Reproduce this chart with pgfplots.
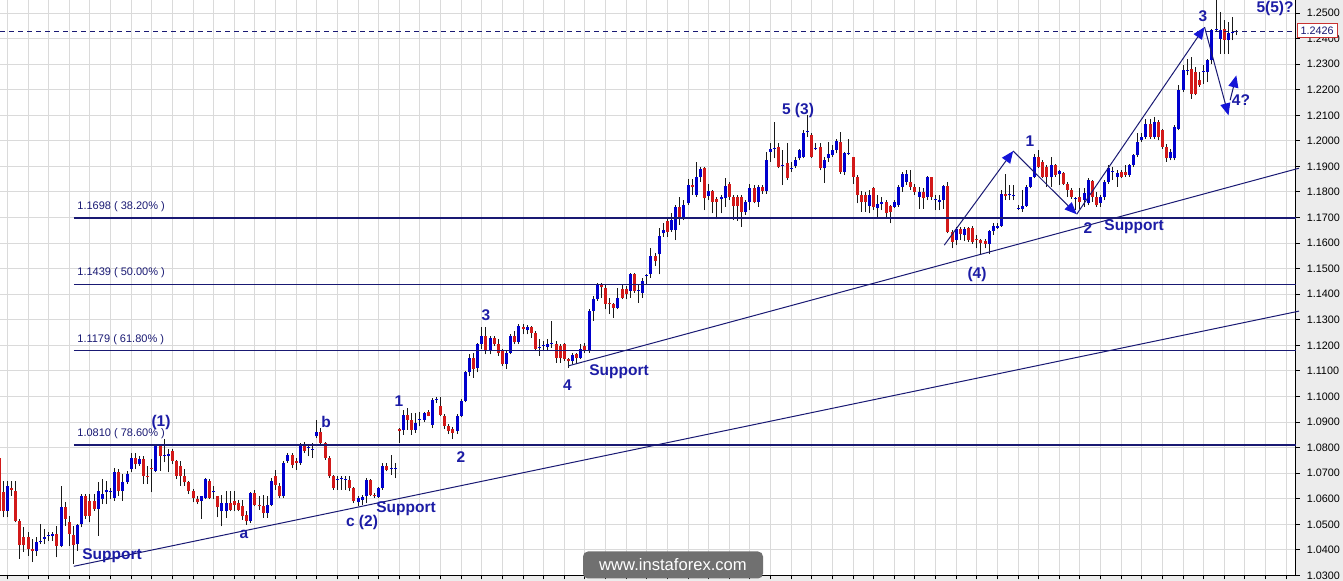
\documentclass[border=0pt]{standalone}
\usepackage{pgfplots}
\pgfplotsset{compat=1.18}
\usepackage{pgfplotstable}
\usepackage{fontspec}
\setmainfont{Liberation Sans}
\usetikzlibrary{arrows.meta}
\definecolor{upc}{RGB}{0,0,205}
\definecolor{dnc}{RGB}{210,25,25}
\definecolor{wickc}{RGB}{25,25,25}
\definecolor{gridc}{RGB}{218,218,218}
\definecolor{navyc}{RGB}{25,25,115}
\definecolor{lblc}{RGB}{28,28,165}
\definecolor{arrc}{RGB}{20,20,215}
\definecolor{panelc}{RGB}{236,236,236}
\definecolor{wmc}{RGB}{112,112,112}
\definecolor{boxred}{RGB}{200,50,50}

\pgfplotstableread{
i O H L C
-1 1.0761 1.0775 1.0540 1.0553
0 1.0625 1.0670 1.0527 1.0553
1 1.0553 1.0670 1.0527 1.0651
2 1.0642 1.0670 1.0612 1.0634
3 1.0631 1.0670 1.0508 1.0514
4 1.0514 1.0521 1.0365 1.0419
5 1.0449 1.0488 1.0391 1.0419
6 1.0449 1.0469 1.0378 1.0404
7 1.0404 1.0443 1.0352 1.0394
8 1.0394 1.0449 1.0378 1.0430
9 1.0430 1.0501 1.0423 1.0436
10 1.0443 1.0482 1.0423 1.0449
11 1.0456 1.0469 1.0436 1.0459
12 1.0456 1.0469 1.0436 1.0462
13 1.0462 1.0495 1.0371 1.0417
14 1.0417 1.0651 1.0410 1.0566
15 1.0566 1.0586 1.0495 1.0521
16 1.0508 1.0534 1.0417 1.0462
17 1.0458 1.0495 1.0345 1.0419
18 1.0423 1.0501 1.0397 1.0497
19 1.0501 1.0618 1.0488 1.0612
20 1.0610 1.0618 1.0521 1.0534
21 1.0592 1.0618 1.0508 1.0534
22 1.0592 1.0618 1.0553 1.0560
23 1.0560 1.0664 1.0456 1.0631
24 1.0599 1.0677 1.0579 1.0618
25 1.0625 1.0670 1.0579 1.0635
26 1.0625 1.0644 1.0599 1.0631
27 1.0605 1.0722 1.0592 1.0703
28 1.0703 1.0716 1.0612 1.0631
29 1.0631 1.0696 1.0592 1.0664
30 1.0664 1.0709 1.0657 1.0696
31 1.0716 1.0781 1.0703 1.0761
32 1.0761 1.0781 1.0716 1.0735
33 1.0735 1.0768 1.0729 1.0755
34 1.0755 1.0768 1.0657 1.0690
35 1.0691 1.0729 1.0657 1.0687
36 1.0722 1.0755 1.0625 1.0716
37 1.0709 1.0813 1.0703 1.0806
38 1.0806 1.0813 1.0709 1.0768
39 1.0768 1.0832 1.0742 1.0771
40 1.0768 1.0794 1.0703 1.0774
41 1.0787 1.0794 1.0735 1.0748
42 1.0748 1.0752 1.0677 1.0690
43 1.0729 1.0748 1.0651 1.0690
44 1.0690 1.0716 1.0651 1.0664
45 1.0664 1.0670 1.0618 1.0631
46 1.0631 1.0638 1.0586 1.0605
47 1.0599 1.0612 1.0579 1.0586
48 1.0592 1.0612 1.0521 1.0609
49 1.0605 1.0683 1.0599 1.0677
50 1.0670 1.0677 1.0599 1.0605
51 1.0625 1.0651 1.0599 1.0631
52 1.0612 1.0612 1.0527 1.0566
53 1.0551 1.0616 1.0492 1.0583
54 1.0551 1.0629 1.0525 1.0583
55 1.0583 1.0629 1.0551 1.0557
56 1.0590 1.0629 1.0551 1.0577
57 1.0583 1.0596 1.0551 1.0557
58 1.0570 1.0596 1.0518 1.0531
59 1.0538 1.0551 1.0499 1.0512
60 1.0512 1.0626 1.0505 1.0622
61 1.0622 1.0635 1.0570 1.0577
62 1.0577 1.0609 1.0557 1.0570
63 1.0573 1.0616 1.0525 1.0544
64 1.0544 1.0609 1.0525 1.0577
65 1.0577 1.0681 1.0570 1.0668
66 1.0690 1.0714 1.0635 1.0655
67 1.0651 1.0661 1.0603 1.0609
68 1.0609 1.0746 1.0603 1.0740
69 1.0746 1.0779 1.0740 1.0772
70 1.0772 1.0779 1.0720 1.0733
71 1.0746 1.0759 1.0714 1.0740
72 1.0740 1.0818 1.0733 1.0811
73 1.0815 1.0824 1.0779 1.0785
74 1.0798 1.0811 1.0766 1.0801
75 1.0792 1.0818 1.0759 1.0795
76 1.0844 1.0909 1.0837 1.0863
77 1.0863 1.0876 1.0811 1.0818
78 1.0818 1.0824 1.0753 1.0759
79 1.0759 1.0766 1.0681 1.0688
80 1.0688 1.0694 1.0635 1.0642
81 1.0674 1.0688 1.0635 1.0677
82 1.0677 1.0688 1.0635 1.0680
83 1.0674 1.0688 1.0635 1.0677
84 1.0674 1.0688 1.0629 1.0642
85 1.0642 1.0648 1.0583 1.0590
86 1.0586 1.0609 1.0570 1.0603
87 1.0596 1.0616 1.0577 1.0607
88 1.0609 1.0681 1.0583 1.0674
89 1.0674 1.0677 1.0609 1.0616
90 1.0616 1.0622 1.0603 1.0609
91 1.0607 1.0648 1.0603 1.0642
92 1.0642 1.0740 1.0635 1.0729
93 1.0729 1.0740 1.0707 1.0714
94 1.0716 1.0772 1.0694 1.0719
95 1.0716 1.0740 1.0681 1.0719
96 1.0872 1.0876 1.0818 1.0867
97 1.0870 1.0948 1.0850 1.0928
98 1.0928 1.0954 1.0870 1.0909
99 1.0909 1.0935 1.0850 1.0870
100 1.0870 1.0935 1.0857 1.0896
101 1.0909 1.0941 1.0883 1.0912
102 1.0909 1.0941 1.0902 1.0935
103 1.0938 1.0948 1.0922 1.0924
104 1.0889 1.0993 1.0876 1.0987
105 1.0987 1.1000 1.0974 1.0990
106 1.0964 1.1000 1.0922 1.0928
107 1.0924 1.0931 1.0872 1.0885
108 1.0885 1.0892 1.0853 1.0866
109 1.0872 1.0879 1.0833 1.0859
110 1.0866 1.0931 1.0853 1.0924
111 1.0924 1.0990 1.0918 1.0983
112 1.0983 1.1100 1.0977 1.1094
113 1.1094 1.1165 1.1081 1.1152
114 1.1152 1.1172 1.1074 1.1107
115 1.1113 1.1211 1.1094 1.1204
116 1.1204 1.1270 1.1185 1.1237
117 1.1237 1.1270 1.1165 1.1178
118 1.1178 1.1237 1.1165 1.1230
119 1.1230 1.1237 1.1198 1.1204
120 1.1207 1.1224 1.1159 1.1172
121 1.1178 1.1185 1.1120 1.1126
122 1.1129 1.1178 1.1107 1.1172
123 1.1172 1.1243 1.1165 1.1237
124 1.1237 1.1257 1.1204 1.1215
125 1.1215 1.1283 1.1204 1.1276
126 1.1270 1.1283 1.1243 1.1263
127 1.1259 1.1280 1.1243 1.1270
128 1.1270 1.1276 1.1230 1.1250
129 1.1250 1.1257 1.1178 1.1185
130 1.1191 1.1224 1.1159 1.1194
131 1.1198 1.1217 1.1178 1.1201
132 1.1194 1.1224 1.1178 1.1207
133 1.1207 1.1296 1.1191 1.1210
134 1.1207 1.1217 1.1133 1.1150
135 1.1198 1.1204 1.1133 1.1150
136 1.1204 1.1211 1.1139 1.1146
137 1.1146 1.1152 1.1113 1.1137
138 1.1139 1.1172 1.1126 1.1163
139 1.1165 1.1172 1.1133 1.1150
140 1.1152 1.1204 1.1146 1.1185
141 1.1198 1.1211 1.1172 1.1178
142 1.1178 1.1341 1.1172 1.1335
143 1.1335 1.1393 1.1296 1.1380
144 1.1380 1.1445 1.1374 1.1439
145 1.1439 1.1445 1.1387 1.1428
146 1.1426 1.1439 1.1341 1.1363
147 1.1367 1.1387 1.1322 1.1361
148 1.1361 1.1367 1.1309 1.1348
149 1.1348 1.1426 1.1341 1.1387
150 1.1419 1.1439 1.1380 1.1387
151 1.1419 1.1432 1.1380 1.1400
152 1.1413 1.1484 1.1387 1.1478
153 1.1478 1.1484 1.1406 1.1413
154 1.1413 1.1439 1.1367 1.1416
155 1.1406 1.1465 1.1387 1.1452
156 1.1471 1.1478 1.1439 1.1474
157 1.1478 1.1582 1.1465 1.1549
158 1.1549 1.1563 1.1510 1.1530
159 1.1556 1.1660 1.1478 1.1628
160 1.1638 1.1677 1.1625 1.1651
161 1.1688 1.1697 1.1625 1.1645
162 1.1651 1.1716 1.1645 1.1690
163 1.1651 1.1749 1.1612 1.1742
164 1.1742 1.1781 1.1671 1.1697
165 1.1697 1.1768 1.1690 1.1749
166 1.1755 1.1849 1.1749 1.1827
167 1.1827 1.1849 1.1788 1.1818
168 1.1788 1.1918 1.1781 1.1859
169 1.1859 1.1898 1.1840 1.1888
170 1.1892 1.1898 1.1729 1.1775
171 1.1784 1.1833 1.1768 1.1805
172 1.1805 1.1807 1.1716 1.1762
173 1.1771 1.1781 1.1693 1.1762
174 1.1771 1.1788 1.1716 1.1781
175 1.1775 1.1853 1.1742 1.1823
176 1.1831 1.1840 1.1768 1.1781
177 1.1781 1.1788 1.1690 1.1745
178 1.1779 1.1788 1.1688 1.1745
179 1.1781 1.1788 1.1664 1.1723
180 1.1723 1.1768 1.1710 1.1762
181 1.1762 1.1833 1.1729 1.1814
182 1.1814 1.1827 1.1755 1.1762
183 1.1762 1.1827 1.1742 1.1818
184 1.1818 1.1827 1.1794 1.1805
185 1.1805 1.1957 1.1794 1.1924
186 1.1957 1.1990 1.1918 1.1970
187 1.1970 1.2074 1.1931 1.1973
188 1.1977 1.1990 1.1892 1.1898
189 1.1901 1.1964 1.1827 1.1904
190 1.1914 1.1990 1.1846 1.1853
191 1.1892 1.1918 1.1879 1.1895
192 1.1901 1.1938 1.1892 1.1927
193 1.1931 1.1970 1.1924 1.1964
194 1.1938 1.2042 1.1931 1.2031
195 1.2035 1.2100 1.2016 1.2038
196 1.2022 1.2029 1.1931 1.1938
197 1.1970 1.1990 1.1964 1.1973
198 1.1977 1.1990 1.1885 1.1892
199 1.1892 1.1938 1.1836 1.1927
200 1.1931 1.1996 1.1918 1.1948
201 1.1944 1.1983 1.1938 1.1966
202 1.1966 1.2009 1.1951 1.1999
203 1.1996 1.2035 1.1872 1.1879
204 1.1879 1.1957 1.1866 1.1953
205 1.1951 1.2009 1.1944 1.1954
206 1.1935 1.1938 1.1833 1.1859
207 1.1859 1.1866 1.1755 1.1788
208 1.1788 1.1805 1.1723 1.1762
209 1.1788 1.1801 1.1723 1.1762
210 1.1745 1.1807 1.1716 1.1788
211 1.1814 1.1820 1.1729 1.1740
212 1.1736 1.1788 1.1701 1.1753
213 1.1753 1.1781 1.1729 1.1762
214 1.1761 1.1768 1.1703 1.1716
215 1.1745 1.1748 1.1677 1.1722
216 1.1742 1.1768 1.1739 1.1761
217 1.1748 1.1827 1.1742 1.1820
218 1.1820 1.1879 1.1801 1.1872
219 1.1840 1.1885 1.1827 1.1872
220 1.1840 1.1885 1.1807 1.1820
221 1.1820 1.1833 1.1788 1.1801
222 1.1781 1.1820 1.1735 1.1801
223 1.1801 1.1814 1.1735 1.1778
224 1.1781 1.1862 1.1768 1.1857
225 1.1857 1.1859 1.1768 1.1781
226 1.1768 1.1788 1.1729 1.1771
227 1.1761 1.1788 1.1729 1.1768
228 1.1768 1.1827 1.1735 1.1823
229 1.1823 1.1840 1.1638 1.1644
230 1.1644 1.1651 1.1579 1.1605
231 1.1612 1.1664 1.1592 1.1657
232 1.1657 1.1664 1.1612 1.1635
233 1.1631 1.1664 1.1609 1.1657
234 1.1661 1.1664 1.1605 1.1612
235 1.1661 1.1666 1.1598 1.1605
236 1.1618 1.1631 1.1579 1.1612
237 1.1612 1.1618 1.1559 1.1601
238 1.1609 1.1618 1.1579 1.1598
239 1.1598 1.1651 1.1559 1.1648
240 1.1648 1.1677 1.1631 1.1666
241 1.1661 1.1677 1.1657 1.1666
242 1.1666 1.1807 1.1664 1.1794
243 1.1791 1.1872 1.1768 1.1784
244 1.1788 1.1827 1.1768 1.1791
245 1.1784 1.1827 1.1768 1.1787
246 1.1735 1.1748 1.1729 1.1738
247 1.1735 1.1807 1.1722 1.1745
248 1.1745 1.1827 1.1742 1.1820
249 1.1820 1.1859 1.1814 1.1857
250 1.1857 1.1950 1.1853 1.1937
251 1.1935 1.1964 1.1892 1.1898
252 1.1918 1.1924 1.1853 1.1859
253 1.1898 1.1905 1.1820 1.1859
254 1.1857 1.1937 1.1820 1.1905
255 1.1905 1.1911 1.1859 1.1866
256 1.1872 1.1885 1.1827 1.1883
257 1.1875 1.1879 1.1827 1.1833
258 1.1833 1.1840 1.1781 1.1807
259 1.1807 1.1814 1.1774 1.1781
260 1.1774 1.1781 1.1729 1.1777
261 1.1781 1.1814 1.1735 1.1761
262 1.1768 1.1814 1.1742 1.1797
263 1.1755 1.1853 1.1748 1.1846
264 1.1844 1.1846 1.1761 1.1781
265 1.1781 1.1801 1.1742 1.1748
266 1.1755 1.1788 1.1742 1.1781
267 1.1781 1.1846 1.1768 1.1840
268 1.1840 1.1905 1.1833 1.1892
269 1.1879 1.1898 1.1846 1.1882
270 1.1859 1.1885 1.1820 1.1875
271 1.1879 1.1885 1.1853 1.1859
272 1.1879 1.1905 1.1859 1.1866
273 1.1866 1.1911 1.1859 1.1905
274 1.1905 1.1950 1.1898 1.1944
275 1.1944 1.2029 1.1937 1.1996
276 1.2003 1.2029 1.1996 1.2016
277 1.2015 1.2087 1.2009 1.2067
278 1.2067 1.2087 1.2009 1.2015
279 1.2015 1.2094 1.2009 1.2074
280 1.2074 1.2080 1.2002 1.2015
281 1.2041 1.2048 1.1970 1.1976
282 1.1976 1.1989 1.1918 1.1931
283 1.1931 1.1970 1.1924 1.1957
284 1.1931 1.2061 1.1924 1.2054
285 1.2048 1.2217 1.2041 1.2198
286 1.2198 1.2296 1.2191 1.2276
287 1.2276 1.2322 1.2256 1.2279
288 1.2283 1.2328 1.2165 1.2185
289 1.2270 1.2289 1.2178 1.2185
290 1.2237 1.2270 1.2211 1.2217
291 1.2270 1.2296 1.2224 1.2273
292 1.2270 1.2322 1.2230 1.2315
293 1.2315 1.2439 1.2302 1.2432
294 1.2435 1.2550 1.2428 1.2438
295 1.2400 1.2504 1.2341 1.2432
296 1.2439 1.2472 1.2341 1.2396
297 1.2393 1.2465 1.2341 1.2422
298 1.2424 1.2485 1.2393 1.2427
299 1.2426 1.2435 1.2413 1.2429
}\candles

\begin{document}
\begin{tikzpicture}
\useasboundingbox (0,-2.75pt) rectangle (671.5pt,287.75pt);
\fill[panelc] (647.85pt,-2.75pt) rectangle (671.5pt,287.75pt);
\fill[panelc] (0,-2.75pt) rectangle (671.5pt,0pt);
\begin{axis}[
  at={(0,0)}, anchor=south west,
  scale only axis, width=647.85pt, height=287.75pt,
  xmin=-0.8, xmax=313.3, ymin=1.03, ymax=1.2551,
  clip=false,
  axis x line*=bottom, axis y line*=right,
  axis line style={black, line width=0.5pt},
  tick align=outside, major tick length=2pt,
  tick style={black, line width=0.5pt},
  xtick={1,6,...,311}, xticklabels={},
  ytick={1.03,1.04,1.05,1.06,1.07,1.08,1.09,1.10,1.11,1.12,1.13,1.14,1.15,1.16,1.17,1.18,1.19,1.20,1.21,1.22,1.23,1.24,1.25},
  grid=major, major grid style={gridc, line width=0.5pt},
  scaled y ticks=false,
  yticklabel style={font=\fontsize{5.4}{6}\selectfont, text=black,
    /pgf/number format/fixed, /pgf/number format/fixed zerofill,
    /pgf/number format/precision=4, /pgf/number format/assume math mode=true},
]
% wicks
\addplot[draw=none, mark=none, forget plot,
  error bars/.cd, y dir=plus, y explicit, error mark=none,
  error bar style={draw=wickc, line width=0.5pt}]
  table[x=i, y=L, y error expr=\thisrow{H}-\thisrow{L}] {\candles};
% up bodies
\addplot[draw=none, mark=none, forget plot,
  restrict expr to domain={\thisrow{C}-\thisrow{O}}{0:1},
  error bars/.cd, y dir=plus, y explicit, error mark=none,
  error bar style={draw=upc, line width=1.5pt}]
  table[x=i, y=O, y error expr=\thisrow{C}-\thisrow{O}] {\candles};
% down bodies
\addplot[draw=none, mark=none, forget plot,
  restrict expr to domain={\thisrow{O}-\thisrow{C}}{0.00001:1},
  error bars/.cd, y dir=plus, y explicit, error mark=none,
  error bar style={draw=dnc, line width=1.5pt}]
  table[x=i, y=C, y error expr=\thisrow{O}-\thisrow{C}] {\candles};

% Fibonacci levels
\addplot[navyc, line width=0.65pt] coordinates {(17.1,1.1698) (313.3,1.1698)};
\addplot[navyc, line width=0.65pt] coordinates {(17.1,1.1439) (313.3,1.1439)};
\addplot[navyc, line width=0.65pt] coordinates {(17.1,1.1179) (313.3,1.1179)};
\addplot[navyc, line width=0.65pt] coordinates {(17.1,1.0810) (313.3,1.0810)};
% support lines
\addplot[navyc, line width=0.5pt] coordinates {(17.1,1.0336) (314.1,1.1334)};
\addplot[navyc, line width=0.5pt] coordinates {(137.0,1.1120) (314.1,1.1893)};
% current price
\addplot[navyc, line width=0.5pt, dash pattern=on 2.5pt off 2pt] coordinates {(-0.8,1.2426) (313.3,1.2426)};
% wave arrows
\addplot[navyc, line width=0.5pt, -{Triangle[length=6pt,width=5pt,color=arrc]}] coordinates {(228.1,1.1592) (244.8,1.1960)};
\addplot[navyc, line width=0.5pt, -{Triangle[length=6pt,width=5pt,color=arrc]}] coordinates {(244.8,1.1960) (260.2,1.1713)};
\addplot[navyc, line width=0.5pt, -{Triangle[length=6pt,width=5pt,color=arrc]}] coordinates {(260.2,1.1713) (291.2,1.2445)};
\addplot[navyc, line width=0.5pt, -{Triangle[length=6pt,width=5pt,color=arrc]}] coordinates {(291.2,1.2445) (297.0,1.2100)};
\addplot[navyc, line width=0.5pt, -{Triangle[length=6pt,width=5pt,color=arrc]}] coordinates {(297.4,1.2159) (298.9,1.2256)};
\end{axis}

\begin{scope}[x=0.5pt, y=-0.5pt, shift={(0pt,287.75pt)},
  lab/.style={text=lblc, inner sep=0pt, font=\fontsize{7.75}{9}\selectfont\bfseries},
  fib/.style={text=navyc, inner sep=0pt, anchor=west, font=\fontsize{5.5}{6}\selectfont}]
\node[fib] at (77,206.5) {1.1698 ( 38.20\% )};
\node[fib] at (77,273) {1.1439 ( 50.00\% )};
\node[fib] at (77,339.5) {1.1179 ( 61.80\% )};
\node[fib] at (77,434) {1.0810 ( 78.60\% )};
\node[lab, anchor=west] at (82,556) {Support};
\node[lab] at (161,423) {(1)};
\node[lab] at (244,534) {a};
\node[lab] at (326,422) {b};
\node[lab] at (362,523) {c (2)};
\node[lab, anchor=west] at (376,509) {Support};
\node[lab] at (399,401) {1};
\node[lab] at (461,457) {2};
\node[lab] at (486,315) {3};
\node[lab] at (567.5,385) {4};
\node[lab, anchor=west] at (589,372) {Support};
\node[lab] at (798,111) {5 (3)};
\node[lab] at (977,275) {(4)};
\node[lab] at (1030,141) {1};
\node[lab] at (1088,228) {2};
\node[lab, anchor=west] at (1104,227) {Support};
\node[lab] at (1203,16) {3};
\node[lab] at (1241,100) {4?};
\node[lab] at (1275,9) {5(5)?};
\node[fill=wmc, rounded corners=2.5pt, text=white, minimum width=90pt, minimum height=13.5pt, inner sep=0pt,
  font=\fontsize{8.3}{9}\selectfont] at (673,565) {www.instaforex.com};
\node[draw=boxred, fill=white, text=navyc, line width=0.5pt, inner sep=0pt, minimum width=20pt, minimum height=7pt,
  font=\fontsize{5.4}{6}\selectfont] at (1317,31) {1.2426};
\end{scope}
\end{tikzpicture}
\end{document}
